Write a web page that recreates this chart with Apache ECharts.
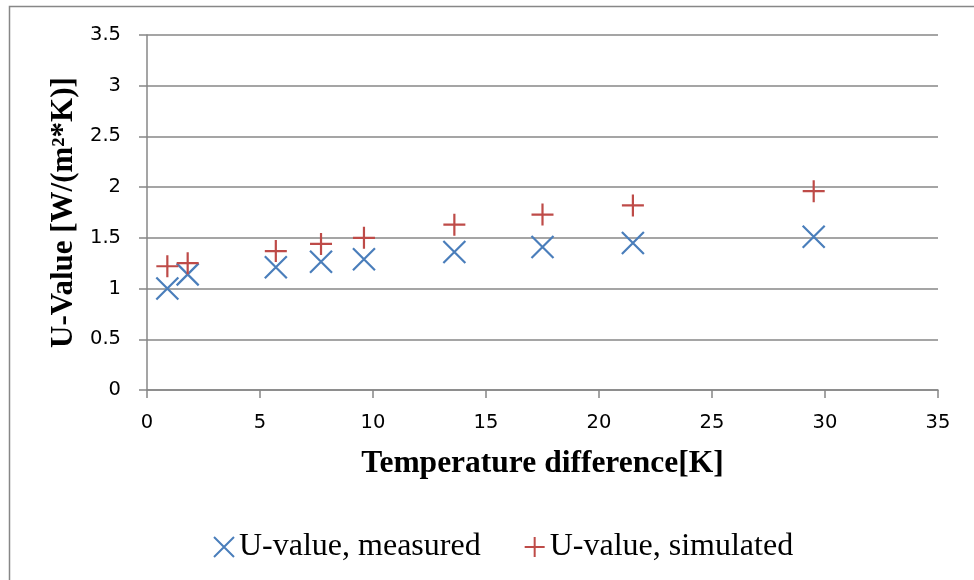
<!DOCTYPE html>
<html>
<head>
<meta charset="utf-8">
<script src="https://cdn.jsdelivr.net/npm/echarts@6/dist/echarts.min.js"></script>
<style>
html,body{margin:0;padding:0;background:#fff;}
#c{width:974px;height:580px;}
</style>
</head>
<body>
<div id="c"></div>
<script>
const tempDiff = [0.9, 1.8, 5.7, 7.7, 9.6, 13.6, 17.5, 21.5, 29.5];
const measured = [1.0, 1.14, 1.21, 1.265, 1.29, 1.36, 1.41, 1.45, 1.51];
const simulated = [1.22, 1.25, 1.37, 1.44, 1.5, 1.63, 1.73, 1.82, 1.96];
const seriesNames = ['U-value, measured', 'U-value, simulated'];
const xTitle = 'Temperature difference[K]';
const yTitle = 'U-Value [W/(m\u00B2*K)]';

const chart = echarts.init(document.getElementById('c'), null, {renderer: 'canvas'});
const axisGray = '#878787';
const blue = '#4A7EBB';
const red = '#BE4B48';
const crossPath = 'path://M0,0L10,10M10,0L0,10';
const plusPath = 'path://M5,0L5,10M0,5L10,5';

function pairs(xs, ys){ return xs.map((x,i)=>[x, ys[i]]); }

chart.setOption({
  animation: false,
  backgroundColor: '#fff',
  graphic: [{
    type: 'rect',
    shape: {x: 9.5, y: 6.5, width: 1200, height: 1200},
    style: {fill: 'none', stroke: axisGray, lineWidth: 1.5},
    silent: true, z: 0
  }],
  grid: {left: 147, right: 36, top: 35, bottom: 190, containLabel: false},
  legend: {
    left: 213, top: 531, padding: 0,
    itemWidth: 20, itemHeight: 20,
    itemGap: 43,
    textStyle: {fontFamily: 'Liberation Serif', fontSize: 32, color: '#000'},
    data: seriesNames
  },
  xAxis: {
    type: 'value', min: 0, max: 35, interval: 5,
    name: xTitle, nameLocation: 'middle', nameGap: 58,
    nameTextStyle: {fontFamily: 'Liberation Serif', fontWeight: 'bold', fontSize: 31.5, color: '#000'},
    axisLine: {show: true, onZero: false, lineStyle: {color: axisGray, width: 1.5}},
    axisTick: {show: true, inside: false, length: 8, lineStyle: {color: axisGray, width: 1.5}},
    axisLabel: {fontFamily: 'DejaVu Sans', fontSize: 19.5, color: '#000', margin: 23},
    splitLine: {show: false}
  },
  yAxis: {
    type: 'value', min: 0, max: 3.5, interval: 0.5,
    name: yTitle, nameLocation: 'middle', nameGap: 66, nameRotate: 90,
    nameTextStyle: {fontFamily: 'Liberation Serif', fontWeight: 'bold', fontSize: 31, color: '#000'},
    axisLine: {show: true, lineStyle: {color: axisGray, width: 1.5}},
    axisTick: {show: true, inside: false, length: 8, lineStyle: {color: axisGray, width: 1.5}},
    axisLabel: {fontFamily: 'DejaVu Sans', fontSize: 19.5, color: '#000', margin: 26},
    splitLine: {show: true, lineStyle: {color: axisGray, width: 1.5}}
  },
  series: [
    {
      name: seriesNames[0], type: 'scatter',
      symbol: crossPath, symbolSize: 22,
      itemStyle: {color: 'rgba(0,0,0,0)', borderColor: blue, borderWidth: 2.2, opacity: 1},
      data: pairs(tempDiff, measured), z: 3
    },
    {
      name: seriesNames[1], type: 'scatter',
      symbol: plusPath, symbolSize: 22,
      itemStyle: {color: 'rgba(0,0,0,0)', borderColor: red, borderWidth: 2.2, opacity: 1},
      data: pairs(tempDiff, simulated), z: 4
    }
  ]
});
</script>
</body>
</html>
